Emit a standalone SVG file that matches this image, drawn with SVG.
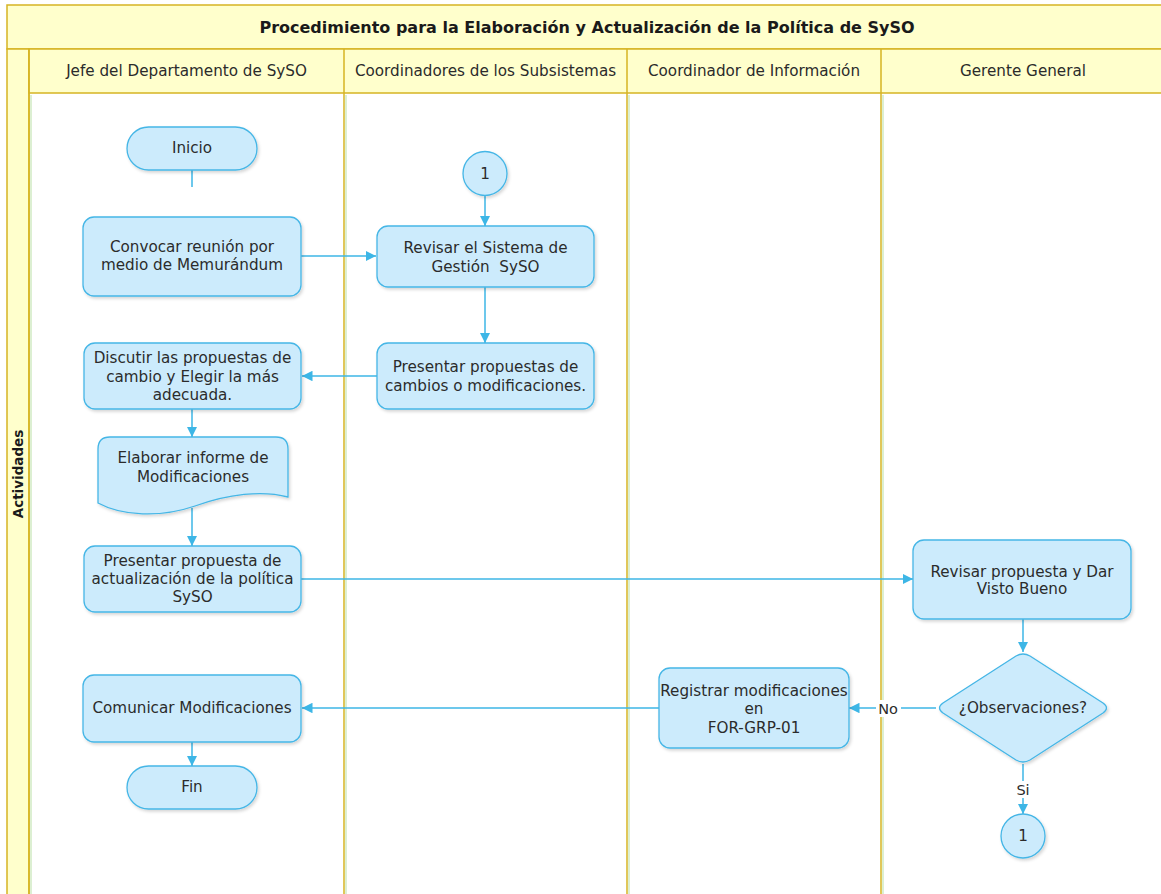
<svg xmlns="http://www.w3.org/2000/svg" width="1161" height="894" viewBox="0 0 1161 894">
<style>
.hdr{fill:#FFFFCC;stroke:#D6B423;stroke-width:1.5}
.lane{stroke:#D6B423;stroke-width:1.5;fill:none}
.lsh{stroke:#DCEFD2;stroke-width:2;fill:none}
.node{fill:#CCEBFC;stroke:#45B6E6;stroke-width:1.3;filter:url(#sh)}
.t{font-family:"DejaVu Sans",sans-serif;font-size:15.2px;fill:#2b2b2b;text-anchor:middle;dominant-baseline:central;white-space:pre}
.title{font-family:"DejaVu Sans",sans-serif;font-size:16px;font-weight:bold;fill:#1a1a1a;text-anchor:middle;dominant-baseline:central}
.c{stroke:#3DB6E6;stroke-width:1.5;fill:none}
.ca{stroke:#3DB6E6;stroke-width:1.5;fill:none;marker-end:url(#ah)}
.lbl{font-family:"DejaVu Sans",sans-serif;font-size:14.5px;fill:#2b2b2b;text-anchor:middle;dominant-baseline:central}
</style>
<defs>
<marker id="ah" viewBox="0 0 10 10" refX="10" refY="5" markerWidth="7" markerHeight="7" markerUnits="strokeWidth" orient="auto">
<path d="M0,0 L10,5 L0,10 z" fill="#3DB6E6"/>
</marker>
<filter id="sh" x="-10%" y="-10%" width="125%" height="130%">
<feDropShadow dx="1.5" dy="2" stdDeviation="1.8" flood-color="#000" flood-opacity="0.16"/>
</filter>
</defs>
<rect width="1161" height="894" fill="#ffffff"/>
<g id="pool">
<rect class="hdr" x="7" y="5" width="1170" height="44"/>
<text class="title" x="587" y="27">Procedimiento para la Elaboración y Actualización de la Política de SySO</text>
<rect class="hdr" x="7" y="49" width="22" height="860"/>
<text class="title" style="font-size:13.5px" transform="translate(18,474) rotate(-90)">Actividades</text>
<rect class="hdr" x="29" y="49" width="1140" height="44"/>
<line class="lsh" x1="346" y1="95" x2="346" y2="894"/>
<line class="lsh" x1="629" y1="95" x2="629" y2="894"/>
<line class="lsh" x1="883" y1="95" x2="883" y2="894"/>
<line class="lsh" x1="31" y1="95" x2="31" y2="894"/>
<line class="lane" x1="29" y1="49" x2="29" y2="894"/>
<line class="lane" x1="344" y1="49" x2="344" y2="894"/>
<line class="lane" x1="627" y1="49" x2="627" y2="894"/>
<line class="lane" x1="881" y1="49" x2="881" y2="894"/>
<text class="t" x="186.5" y="71">Jefe del Departamento de SySO</text>
<text class="t" x="485.5" y="71">Coordinadores de los Subsistemas</text>
<text class="t" x="754" y="71">Coordinador de Información</text>
<text class="t" x="1023" y="71">Gerente General</text>
</g>
<g id="connectors">
<line class="c" x1="192" y1="170" x2="192" y2="187"/>
<line class="ca" x1="301" y1="256" x2="376" y2="256"/>
<line class="ca" x1="485" y1="195" x2="485" y2="226"/>
<line class="ca" x1="485" y1="287" x2="485" y2="343"/>
<line class="ca" x1="377" y1="376" x2="302" y2="376"/>
<line class="ca" x1="192" y1="409" x2="192" y2="437"/>
<line class="ca" x1="192" y1="508" x2="192" y2="546"/>
<line class="ca" x1="301" y1="579" x2="913" y2="579"/>
<line class="ca" x1="1023" y1="619" x2="1023" y2="652"/>
<line class="ca" x1="936" y1="708" x2="849" y2="708"/>
<line class="ca" x1="659" y1="708" x2="302" y2="708"/>
<line class="ca" x1="192" y1="742" x2="192" y2="766"/>
<line class="ca" x1="1023" y1="764" x2="1023" y2="814"/>
<rect x="876" y="700" width="25" height="17" fill="#ffffff"/>
<text class="lbl" x="888" y="709">No</text>
<rect x="1013" y="781" width="20" height="17" fill="#ffffff"/>
<text class="lbl" x="1023" y="790">Si</text>
</g>
<g id="inicio">
<rect class="node" x="127" y="127" width="130" height="43" rx="21.5"/>
<text class="t" x="192" y="148">Inicio</text>
</g>
<g id="convocar">
<rect class="node" x="83" y="217" width="218" height="79" rx="11"/>
<text class="t" x="192" y="247">Convocar reunión por</text>
<text class="t" x="192" y="265">medio de Memurándum</text>
</g>
<g id="conector1a">
<circle class="node" cx="485" cy="173.5" r="22"/>
<text class="t" x="485" y="173.5">1</text>
</g>
<g id="revisar-sistema">
<rect class="node" x="377" y="226" width="217" height="61" rx="11"/>
<text class="t" x="485.5" y="248">Revisar el Sistema de</text>
<text class="t" x="485.5" y="267">Gestión  SySO</text>
</g>
<g id="presentar-propuestas">
<rect class="node" x="377" y="343" width="217" height="66" rx="11"/>
<text class="t" x="485.5" y="367">Presentar propuestas de</text>
<text class="t" x="485.5" y="386">cambios o modificaciones.</text>
</g>
<g id="discutir">
<rect class="node" x="84" y="343" width="217" height="66" rx="11"/>
<text class="t" x="192.5" y="358">Discutir las propuestas de</text>
<text class="t" x="192.5" y="377">cambio y Elegir la más</text>
<text class="t" x="192.5" y="395">adecuada.</text>
</g>
<g id="elaborar">
<path class="node" d="M110,437 H276 Q288,437 288,449 V497 C262,490 228,494 195,506 C160,518 122,516 98,503 V449 Q98,437 110,437 Z"/>
<text class="t" x="193" y="458">Elaborar informe de</text>
<text class="t" x="193" y="477">Modificaciones</text>
</g>
<g id="presentar-actualizacion">
<rect class="node" x="84" y="546" width="217" height="66" rx="11"/>
<text class="t" x="192.5" y="561">Presentar propuesta de</text>
<text class="t" x="192.5" y="579">actualización de la política</text>
<text class="t" x="192.5" y="597">SySO</text>
</g>
<g id="revisar-propuesta">
<rect class="node" x="913" y="540" width="218" height="79" rx="11"/>
<text class="t" x="1022" y="572">Revisar propuesta y Dar</text>
<text class="t" x="1022" y="589">Visto Bueno</text>
</g>
<g id="observaciones">
<path class="node" d="M1016,656 Q1023,652 1030,656 L1103,703 Q1110,708 1103,713 L1030,760 Q1023,764 1016,760 L943,713 Q936,708 943,703 Z"/>
<text class="t" x="1023" y="708">¿Observaciones?</text>
</g>
<g id="registrar">
<rect class="node" x="659" y="668" width="190" height="80" rx="11"/>
<text class="t" x="754" y="691">Registrar modificaciones</text>
<text class="t" x="754" y="709">en</text>
<text class="t" x="754" y="728">FOR-GRP-01</text>
</g>
<g id="comunicar">
<rect class="node" x="83" y="675" width="218" height="67" rx="11"/>
<text class="t" x="192" y="708">Comunicar Modificaciones</text>
</g>
<g id="fin">
<rect class="node" x="127" y="766" width="130" height="43" rx="21.5"/>
<text class="t" x="192" y="787">Fin</text>
</g>
<g id="conector1b">
<circle class="node" cx="1023" cy="836" r="22"/>
<text class="t" x="1023" y="836">1</text>
</g>
</svg>
